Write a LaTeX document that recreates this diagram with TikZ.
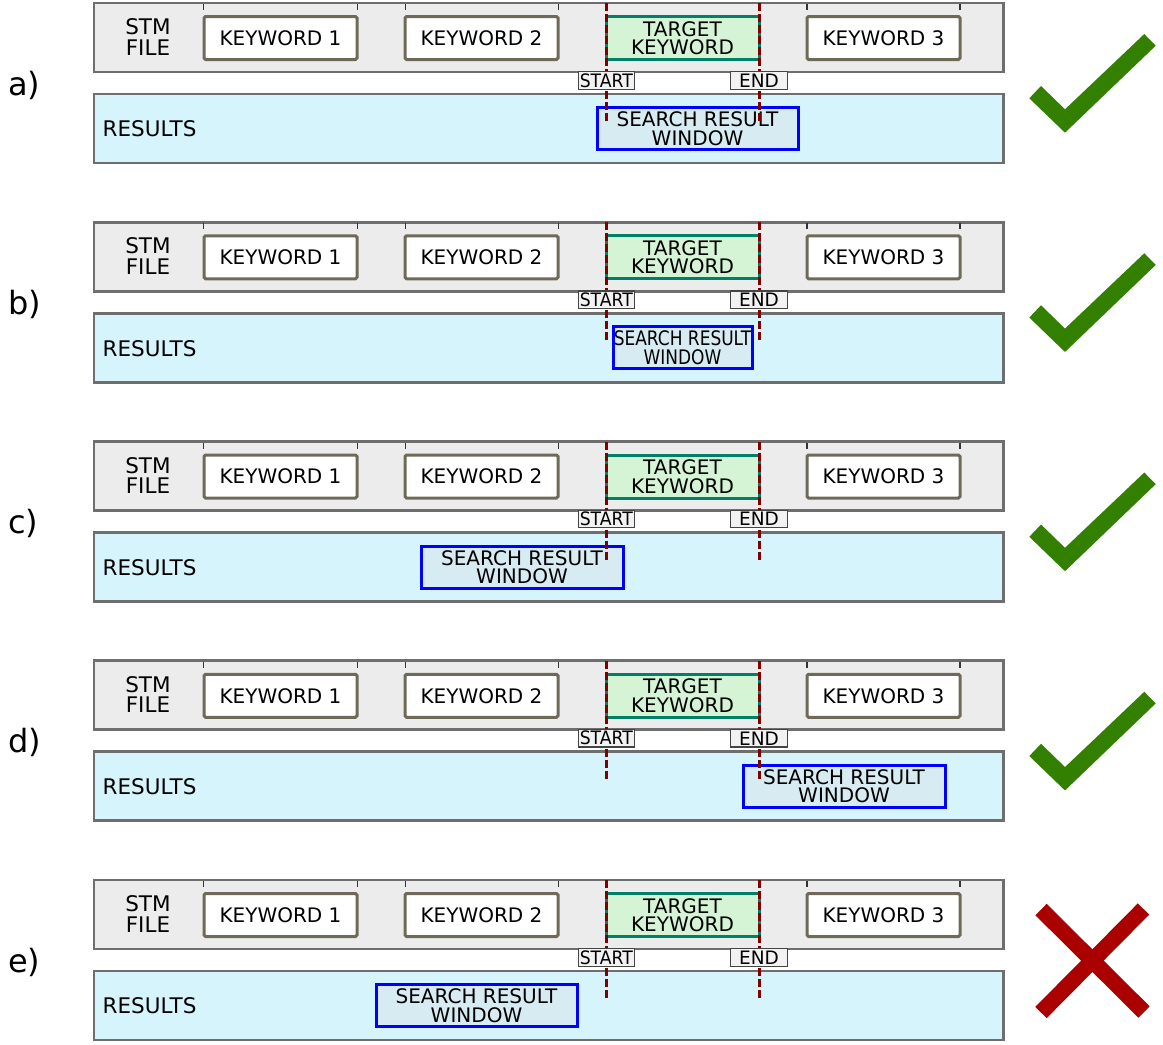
\documentclass[tikz,border=0pt]{standalone}
\usepackage{graphicx}
\usepackage{fontspec}
\setmainfont{DejaVu Sans}

\definecolor{stmfill}{HTML}{ECECEC}
\definecolor{framegray}{HTML}{6E6E6E}
\definecolor{resfill}{HTML}{D5F4FC}
\definecolor{kwborder}{HTML}{6F6A58}
\definecolor{tgtfill}{HTML}{D5F4D5}
\definecolor{tgtborder}{HTML}{008066}
\definecolor{winblue}{HTML}{0000FF}
\definecolor{winfill}{HTML}{D7EBF2}
\definecolor{boundred}{HTML}{800000}
\definecolor{markfill}{HTML}{F2F2F2}
\definecolor{markgray}{HTML}{444444}
\definecolor{tickgray}{HTML}{333333}
\definecolor{okgreen}{HTML}{338000}
\definecolor{nored}{HTML}{AA0000}

% two-line label of a search window, squeezed horizontally by #1
\newcommand\winlabel[1]{\scalebox{#1}[1]{SEARCH RESULT}\\\scalebox{#1}[1]{WINDOW}}

\begin{document}
\begin{tikzpicture}[x=1pt,y=-1pt,
  panelbox/.style={draw=framegray, line width=2.7pt, rectangle, inner sep=0pt,
                   minimum width=909.8pt, minimum height=69pt},
  stmbox/.style={panelbox, fill=stmfill},
  resbox/.style={panelbox, fill=resfill},
  plain/.style={inner sep=0pt, font=\fontsize{21.5}{20.5}\selectfont},
  kwbox/.style={draw=kwborder, fill=white, line width=3pt, rounded corners=1.5pt,
                minimum width=153pt, minimum height=43pt, inner sep=0pt,
                align=center, font=\fontsize{20}{18.5}\selectfont},
  tgtbox/.style={kwbox, draw=tgtborder, fill=tgtfill, rounded corners=0pt},
  winbox/.style={draw=winblue, fill=winfill, line width=3pt, minimum height=42pt,
                 inner sep=0pt, align=center, font=\fontsize{20}{18.5}\selectfont},
  marker/.style={draw=markgray, fill=markfill, line width=1.1pt, minimum width=56.5pt,
                 minimum height=17.5pt, inner sep=0pt, font=\fontsize{18.5}{18.5}\selectfont},
  bound/.style={draw=boundred, line width=3pt, dash pattern=on 8pt off 3pt},
  tick/.style={draw=tickgray, line width=1.5pt},
  panellabel/.style={inner sep=0pt, anchor=west, font=\fontsize{32}{32}\selectfont}
]
\useasboundingbox (0,0) rectangle (1163,1045);

\foreach \p/\off/\wx/\ww/\ws in {a/0/697.5/201/1, b/219.25/682.5/139/0.85,
    c/438.5/522/202/1, d/657.75/844/202/1, e/877/476.5/201/1}{
  \begin{scope}[shift={(0,\off)}]
    % the STM file strip with its keywords
    \node[stmbox] (stm-\p) at (548.9,37.5) {};
    \foreach \t in {203.5,357.5,405.5,558.5,606.5,759,807,960}
      \draw[tick] (\t,4) -- (\t,10);
    \node[kwbox]  (kw1-\p) at (280.5,38) {KEYWORD 1};
    \node[kwbox]  (kw2-\p) at (481.5,38) {KEYWORD 2};
    \node[tgtbox] (tgt-\p) at (682.5,38) {TARGET\\KEYWORD};
    \node[kwbox]  (kw3-\p) at (883.5,38) {KEYWORD 3};
    \node[plain, align=center] (stmlabel-\p) at (148,37) {STM\\FILE};
    % the results strip with the search window
    \node[resbox] (res-\p) at (548.9,128.5) {};
    \node[plain, anchor=west] (reslabel-\p) at (102.5,129) {RESULTS};
    \node[winbox, minimum width=\ww pt] (win-\p) at (\wx,128.5) {\winlabel{\ws}};
    % start and end bounds of the target keyword
    \coordinate (stop-\p) at (606.5,3);
    \coordinate (sbot-\p) at (606.5,122);
    \coordinate (etop-\p) at (759,3);
    \coordinate (ebot-\p) at (759,122);
    \draw[bound] (stop-\p) -- (sbot-\p);
    \draw[bound] (etop-\p) -- (ebot-\p);
    \node[marker] (start-\p) at (606.3,80.5) {\scalebox{0.93}[1]{START}};
    \node[marker] (end-\p)   at (759,80.5)   {END};
    \node[panellabel] (lab-\p) at (8,85) {\p)};
  \end{scope}
}

% verdicts: accepted windows
\foreach \off in {0,219.25,438.5,657.75}{
  \begin{scope}[shift={(0,\off)}]
    \fill[okgreen] (1029.3,98.3) -- (1041,86) -- (1065,109.3) -- (1144.3,34)
      -- (1155.7,45.7) -- (1065,132.7) -- cycle;
  \end{scope}
}
% rejected window
\begin{scope}[shift={(0,877)}]
  \draw[nored, line width=16pt] (1041,32.5) -- (1144,135);
  \draw[nored, line width=16pt] (1143.5,32) -- (1041,135.5);
\end{scope}
\end{tikzpicture}
\end{document}
